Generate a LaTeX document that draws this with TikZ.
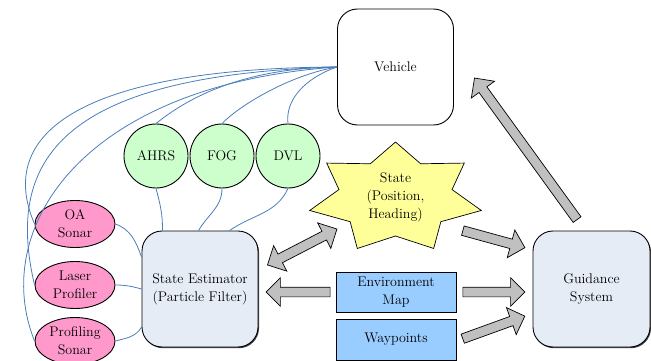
\documentclass[tikz,border=0pt]{standalone}
\usetikzlibrary{shapes.geometric,shapes.arrows,calc,shadows}
\definecolor{wireblue}{HTML}{4A7EBB}
\definecolor{sensorgreen}{HTML}{CCFFCC}
\definecolor{sonarpink}{HTML}{FF99CC}
\definecolor{procblue}{HTML}{E6ECF6}
\definecolor{datablue}{HTML}{99CCFF}
\definecolor{stateyellow}{HTML}{FFFF99}
\definecolor{arrowgray}{HTML}{C0C0C0}

% block arrow between two points
\newcommand{\blockarrow}[3][single arrow]{%
  \path let \p1=(#2), \p2=(#3), \n1={veclen(\x2-\x1,\y2-\y1)} in
    (\p1) -- node[blockarr, #1, sloped, allow upside down,
                  minimum height=\n1] {} (\p2);}

\begin{document}
\begin{tikzpicture}[
    x=1pt, y=1pt,
    every node/.style={font=\fontsize{14}{18}\selectfont, align=center},
    procbox/.style={draw, line width=0.9pt, rounded corners=20pt,
                    minimum width=116pt, minimum height=116pt, fill=#1},
    shade box/.style={drop shadow={shadow xshift=1pt, shadow yshift=-1.2pt,
                      fill=black!75, opacity=1}},
    sensor/.style={draw, line width=0.9pt, circle, minimum size=64pt,
                   inner sep=0pt, fill=sensorgreen},
    sonar/.style={draw, line width=0.9pt, ellipse, minimum width=80pt,
                  minimum height=47pt, inner sep=0pt, fill=sonarpink},
    databox/.style={draw, line width=0.9pt, minimum width=120pt,
                    minimum height=40pt, fill=datablue},
    wire/.style={draw=wireblue, line width=0.8pt},
    blockarr/.style={draw, line width=0.7pt, fill=arrowgray, inner sep=4.5pt,
                     text height=0pt, text depth=0pt, text width=0pt,
                     minimum width=0pt, single arrow head extend=9.5pt,
                     double arrow head extend=9.5pt}
  ]
    \useasboundingbox (0,0) rectangle (651,-361);

    \node[procbox=white] (veh) at (395.5,-67) {Vehicle};
    \node[procbox=procblue, shade box] (estim) at (200,-289) {State Estimator\\(Particle Filter)};
    \node[procbox=procblue, shade box, minimum width=117pt] (guid) at (591.5,-289) {Guidance\\System};

    \node[sensor] (ahrs) at (156,-156) {AHRS};
    \node[sensor] (fog) at (222,-156) {FOG};
    \node[sensor] (dvl) at (288,-156) {DVL};

    \node[sonar] (oa) at (75,-224) {OA\\Sonar};
    \node[sonar] (laser) at (75,-285) {Laser\\Profiler};
    \node[sonar] (prof) at (75,-341) {Profiling\\Sonar};

    \node[databox] (env) at (396,-292) {Environment\\Map};
    \node[databox, minimum height=41pt] (way) at (396,-339.5) {Waypoints};

    % seven-point star
    \begin{scope}[shift={(395.5,-198)}]
      \draw[line width=0.7pt, fill=stateyellow] (90:88 and 56)
        \foreach \i in {0,...,6} { -- ({90+\i*360/7+360/14}:58 and 38)
                                   -- ({90+(\i+1)*360/7}:88 and 56) } -- cycle;
    \end{scope}
    \node (state) at (395.5,-197) {State\\(Position,\\Heading)};

    % sensor wiring
    \draw[wire] (veh.west) .. controls (100,-68) and (-8,-125) .. (oa.west);
    \draw[wire] (veh.west) .. controls (60,-75) and (5,-160) .. (laser.west);
    \draw[wire] (veh.west) .. controls (80,-85) and (-10,-230) .. (prof.west);
    \draw[wire] (veh.west) .. controls (240,-68) and (185,-100) .. (ahrs.north);
    \draw[wire] (veh.west) .. controls (290,-75) and (240,-105) .. (fog.north);
    \draw[wire] (veh.west) .. controls (305,-78) and (285,-100) .. (dvl.north);

    \draw[wire] (ahrs.south) to[out=-75, in=90] ($(estim.north west)+(21,0)$);
    \draw[wire] (fog.south) to[out=-90, in=60] ($(estim.north west)+(57,0)$);
    \draw[wire] (dvl.south) to[out=-115, in=35] ($(estim.north west)+(88,0)$);

    \draw[wire] (oa.east) to[out=-20, in=110] ($(estim.west)+(0,32)$);
    \draw[wire] (laser.east) to[out=0, in=165] ($(estim.west)+(0,0)$);
    \draw[wire] (prof.east) to[out=15, in=-120] ($(estim.west)+(0,-38)$);

    % data flow
    \blockarrow[double arrow]{$(estim.east)+(9,24)$}{$(state)+(-58.5,-32)$}
    \blockarrow{$(env.west)+(-3,0)$}{$(estim.east |- env.west)+(10,0)$}
    \blockarrow{$(state)+(65,-33)$}{$(guid.west)+(-10,42)$}
    \blockarrow{$(env.east)+(4,0)$}{$(guid.west |- env.east)+(-10,0)$}
    \blockarrow{$(way.east)+(4,0)$}{$(guid.west)+(-10,-28)$}
    \blockarrow{$(guid.north)+(-13,9)$}{$(veh.east)+(22,-13)$}
  \end{tikzpicture}
\end{document}
